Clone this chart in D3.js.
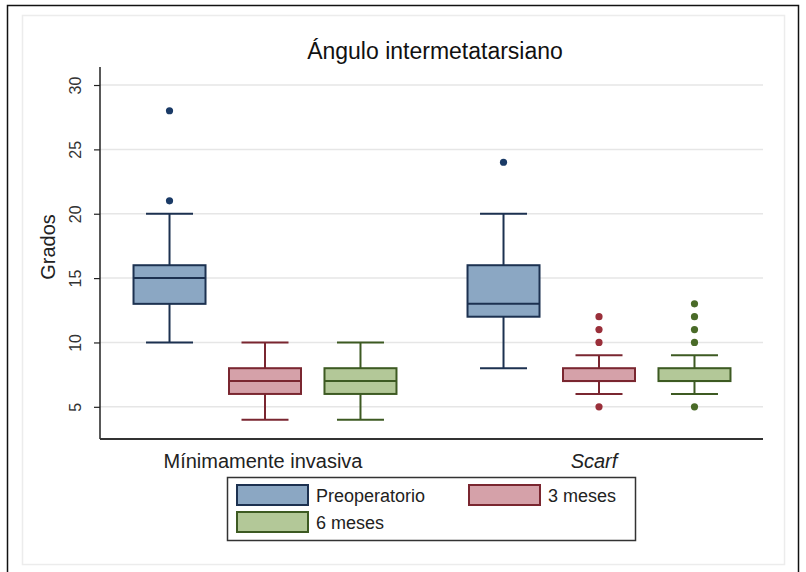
<!DOCTYPE html>
<html><head><meta charset="utf-8">
<script src="https://cdn.jsdelivr.net/npm/d3@7"></script>
<style>body{margin:0;background:#fff}svg{display:block}text{font-family:"Liberation Sans",Arial,Helvetica,sans-serif}</style>
</head><body>
<script>
const title = "Ángulo intermetatarsiano";
const yLabel = "Grados";
const groups = ["Mínimamente invasiva", "Scarf"];
const series = ["Preoperatorio", "3 meses", "6 meses"];
const yTicks = [5, 10, 15, 20, 25, 30];
// per group, per series
const lowerWhisker = [[10, 4, 4], [8, 6, 6]];
const q1 = [[13, 6, 6], [12, 7, 7]];
const median = [[15, 7, 7], [13, 7, 7]];
const q3 = [[16, 8, 8], [16, 8, 8]];
const upperWhisker = [[20, 10, 10], [20, 9, 9]];
const outliers = [[[21, 28], [], []], [[24], [5, 10, 11, 12], [5, 10, 11, 12, 13]]];

const fills = ["#8ba7c3", "#d5a1a9", "#b3c898"];
const strokes = ["#1c3150", "#7a2630", "#3d5a22"];
const dots = ["#1a3a66", "#9a2f3a", "#4a6b28"];

const W = 806, H = 572;
const svg = d3.select("body").append("svg").attr("width", W).attr("height", H);

// frames
svg.append("rect").attr("x", 7.5).attr("y", 5.5).attr("width", 791).attr("height", 580)
  .attr("fill", "none").attr("stroke", "#111").attr("stroke-width", 1.5);
svg.append("rect").attr("x", 22.5).attr("y", 15.5).attr("width", 762).attr("height", 549)
  .attr("fill", "none").attr("stroke", "#ececec").attr("stroke-width", 1.5);

const plotL = 100, plotR = 763, plotT = 67, plotB = 439;
const y = d3.scaleLinear().domain([2.5, 31.4]).range([plotB, plotT]);
const x0 = d3.scaleBand().domain(groups).range([98, 766]);
const x1 = d3.scalePoint().domain(series).range([0, x0.bandwidth()]).padding(0.749);
const boxW = 72, capW = 47;

// gridlines
svg.append("g").selectAll("line").data(yTicks).join("line")
  .attr("x1", plotL).attr("x2", plotR)
  .attr("y1", d => y(d)).attr("y2", d => y(d))
  .attr("stroke", "#e6e6e6").attr("stroke-width", 1.5);

// y axis
const yAxis = svg.append("g").attr("transform", `translate(${plotL},0)`)
  .call(d3.axisLeft(y).tickValues(yTicks).tickSize(6).tickPadding(4));
yAxis.select(".domain").attr("stroke", "#222").attr("stroke-width", 1.5).attr("d", `M-0,${plotB}V${plotT}`);
yAxis.selectAll(".tick line").attr("stroke", "#222").attr("stroke-width", 1.2);
yAxis.selectAll(".tick text").attr("font-size", 16).attr("fill", "#333")
  .attr("text-anchor", "middle").attr("x", null).attr("dy", null)
  .attr("transform", "translate(-24.5,0) rotate(-90)").attr("y", 0).attr("dy", "0.35em");

// x axis line
svg.append("line").attr("x1", plotL).attr("x2", plotR).attr("y1", plotB).attr("y2", plotB)
  .attr("stroke", "#333").attr("stroke-width", 2);

// y label
svg.append("text").attr("transform", `translate(55,${(plotT + plotB) / 2 - 6}) rotate(-90)`)
  .attr("text-anchor", "middle").attr("font-size", 20).attr("fill", "#222").text(yLabel);

// title
svg.append("text").attr("x", 435).attr("y", 59).attr("text-anchor", "middle")
  .attr("font-size", 23).attr("fill", "#111").text(title);

// category labels
svg.append("g").selectAll("text").data(groups).join("text")
  .attr("x", d => x0(d) + x0.bandwidth() / 2 - (d === "Scarf" ? 5 : 2))
  .attr("y", 468).attr("text-anchor", "middle").attr("font-size", 20).attr("fill", "#222")
  .attr("font-style", d => d === "Scarf" ? "italic" : "normal").text(d => d);

// boxes
const items = [];
groups.forEach((g, gi) => series.forEach((s, si) => items.push({
  g, s, si, lw: lowerWhisker[gi][si], q1: q1[gi][si], med: median[gi][si], q3: q3[gi][si],
  uw: upperWhisker[gi][si], out: outliers[gi][si]
})));

const bg = svg.append("g").selectAll("g").data(items).join("g")
  .attr("transform", d => `translate(${x0(d.g) + x1(d.s)},0)`);
// whiskers
bg.append("line").attr("x1", 0).attr("x2", 0).attr("y1", d => y(d.uw)).attr("y2", d => y(d.q3))
  .attr("stroke", d => strokes[d.si]).attr("stroke-width", 2);
bg.append("line").attr("x1", 0).attr("x2", 0).attr("y1", d => y(d.q1)).attr("y2", d => y(d.lw))
  .attr("stroke", d => strokes[d.si]).attr("stroke-width", 2);
bg.append("line").attr("x1", -capW / 2).attr("x2", capW / 2).attr("y1", d => y(d.uw)).attr("y2", d => y(d.uw))
  .attr("stroke", d => strokes[d.si]).attr("stroke-width", 2);
bg.append("line").attr("x1", -capW / 2).attr("x2", capW / 2).attr("y1", d => y(d.lw)).attr("y2", d => y(d.lw))
  .attr("stroke", d => strokes[d.si]).attr("stroke-width", 2);
bg.append("rect").attr("x", -boxW / 2).attr("width", boxW)
  .attr("y", d => y(d.q3)).attr("height", d => y(d.q1) - y(d.q3))
  .attr("fill", d => fills[d.si]).attr("stroke", d => strokes[d.si]).attr("stroke-width", 2);
bg.append("line").attr("x1", -boxW / 2).attr("x2", boxW / 2).attr("y1", d => y(d.med)).attr("y2", d => y(d.med))
  .attr("stroke", d => strokes[d.si]).attr("stroke-width", 2);
bg.each(function (d) {
  d3.select(this).selectAll("circle").data(d.out).join("circle")
    .attr("cx", 0).attr("cy", v => y(v)).attr("r", 3.6).attr("fill", dots[d.si]);
});

// legend
const lg = svg.append("g");
lg.append("rect").attr("x", 227.5).attr("y", 477.5).attr("width", 408).attr("height", 63)
  .attr("fill", "#fff").attr("stroke", "#333").attr("stroke-width", 1.5);
const legPos = [[237, 485], [469, 485], [237, 512]];
series.forEach((s, i) => {
  lg.append("rect").attr("x", legPos[i][0]).attr("y", legPos[i][1]).attr("width", 71).attr("height", 20)
    .attr("fill", fills[i]).attr("stroke", strokes[i]).attr("stroke-width", 2);
  lg.append("text").attr("x", legPos[i][0] + 79).attr("y", legPos[i][1] + 17)
    .attr("font-size", 18).attr("fill", "#222").text(s);
});
</script>
</body></html>
